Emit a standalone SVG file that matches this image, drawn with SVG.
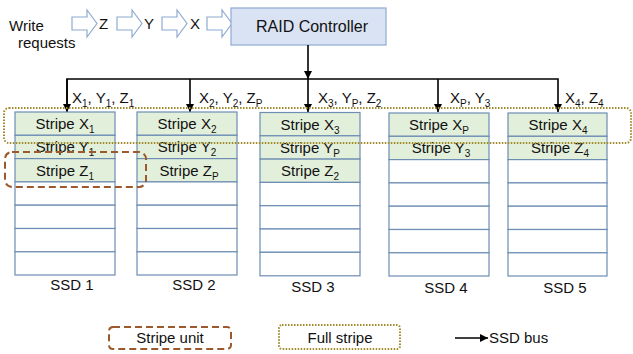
<svg xmlns="http://www.w3.org/2000/svg" width="633" height="354" viewBox="0 0 633 354">
  <style>
    text { font-family: "Liberation Sans", Arial, sans-serif; font-size: 15px; fill: #111; }
    .ctl { font-size: 16px; }
    .mid { text-anchor: middle; }
    .sub { font-size: 10px; }
    .hollow { fill: #fff; stroke: #8eaad0; stroke-width: 1.2; }
    .cell { fill: #fff; stroke: #6d8db3; stroke-width: 1.2; }
    .data { fill: #e2efda; stroke: #6d8db3; stroke-width: 1.2; }
    .bus { fill: none; stroke: #000; stroke-width: 1.6; }
    .unit { fill: none; stroke: #9c5a2c; stroke-width: 2; stroke-dasharray: 7 4; }
    .full { fill: none; stroke: #a08a2a; stroke-width: 2; stroke-dasharray: 1.5 1.5; }
  </style>
  <defs>
    <marker id="arrowhead" viewBox="0 0 10 10" refX="10" refY="5" markerWidth="5" markerHeight="5" orient="auto" markerUnits="strokeWidth">
      <path d="M0,0 L10,5 L0,10 Z" fill="#000"/>
    </marker>
    <path id="blockArrow" d="M0,17 H15 V10 L25,23.5 L15,37 V30 H0 Z"/>
  </defs>

  <!-- incoming write requests -->
  <g id="requests">
    <text x="9" y="31">Write</text>
    <text x="18" y="48">requests</text>
    <use href="#blockArrow" class="hollow" x="72"/>
    <text x="99" y="29">Z</text>
    <use href="#blockArrow" class="hollow" x="117"/>
    <text x="144" y="29">Y</text>
    <use href="#blockArrow" class="hollow" x="162"/>
    <text x="190" y="29">X</text>
    <use href="#blockArrow" class="hollow" x="207"/>
  </g>

  <!-- controller -->
  <g id="controller">
    <rect x="231" y="8" width="155" height="37" fill="#dae3f3" stroke="#8faad6" stroke-width="1.2"/>
    <text class="ctl mid" x="312" y="32">RAID Controller</text>
  </g>

  <!-- SSD bus -->
  <g id="connectors">
    <line class="bus" x1="308" y1="45" x2="308" y2="79" marker-end="url(#arrowhead)"/>
    <polyline class="bus" points="67,112 67,79 558,79 558,112" marker-end="url(#arrowhead)" marker-start="none"/>
    <line class="bus" x1="67" y1="79" x2="67" y2="112" marker-end="url(#arrowhead)"/>
    <line class="bus" x1="190" y1="79" x2="190" y2="112" marker-end="url(#arrowhead)"/>
    <line class="bus" x1="308" y1="79" x2="308" y2="112" marker-end="url(#arrowhead)"/>
    <line class="bus" x1="438" y1="79" x2="438" y2="112" marker-end="url(#arrowhead)"/>
    <text x="72" y="103">X<tspan class="sub" dy="4">1</tspan><tspan dy="-4">, Y</tspan><tspan class="sub" dy="4">1</tspan><tspan dy="-4">, Z</tspan><tspan class="sub" dy="4">1</tspan></text>
    <text x="199" y="103">X<tspan class="sub" dy="4">2</tspan><tspan dy="-4">, Y</tspan><tspan class="sub" dy="4">2</tspan><tspan dy="-4">, Z</tspan><tspan class="sub" dy="4">P</tspan></text>
    <text x="318" y="103">X<tspan class="sub" dy="4">3</tspan><tspan dy="-4">, Y</tspan><tspan class="sub" dy="4">P</tspan><tspan dy="-4">, Z</tspan><tspan class="sub" dy="4">2</tspan></text>
    <text x="450" y="103">X<tspan class="sub" dy="4">P</tspan><tspan dy="-4">, Y</tspan><tspan class="sub" dy="4">3</tspan></text>
    <text x="565" y="103">X<tspan class="sub" dy="4">4</tspan><tspan dy="-4">, Z</tspan><tspan class="sub" dy="4">4</tspan></text>
  </g>

  <!-- SSD 1 -->
  <g id="ssd1">
    <rect class="data" x="15" y="112" width="100" height="23.3"/>
    <rect class="data" x="15" y="135.3" width="100" height="23.3"/>
    <rect class="data" x="15" y="158.6" width="100" height="23.3"/>
    <rect class="cell" x="15" y="181.9" width="100" height="23.3"/>
    <rect class="cell" x="15" y="205.2" width="100" height="23.3"/>
    <rect class="cell" x="15" y="228.5" width="100" height="23.3"/>
    <rect class="cell" x="15" y="251.8" width="100" height="23.2"/>
    <text class="mid" x="65" y="129">Stripe X<tspan class="sub" dy="4">1</tspan></text>
    <text class="mid" x="65" y="152">Stripe Y<tspan class="sub" dy="4">1</tspan></text>
    <text class="mid" x="65" y="175.5">Stripe Z<tspan class="sub" dy="4">1</tspan></text>
    <text class="mid" x="72" y="290">SSD 1</text>
  </g>

  <!-- SSD 2 -->
  <g id="ssd2">
    <rect class="data" x="137" y="112" width="100" height="23.3"/>
    <rect class="data" x="137" y="135.3" width="100" height="23.3"/>
    <rect class="data" x="137" y="158.6" width="100" height="23.3"/>
    <rect class="cell" x="137" y="181.9" width="100" height="23.3"/>
    <rect class="cell" x="137" y="205.2" width="100" height="23.3"/>
    <rect class="cell" x="137" y="228.5" width="100" height="23.3"/>
    <rect class="cell" x="137" y="251.8" width="100" height="23.2"/>
    <text class="mid" x="187" y="129">Stripe X<tspan class="sub" dy="4">2</tspan></text>
    <text class="mid" x="187" y="152">Stripe Y<tspan class="sub" dy="4">2</tspan></text>
    <text class="mid" x="189" y="175.5">Stripe Z<tspan class="sub" dy="4">P</tspan></text>
    <text class="mid" x="194" y="290">SSD 2</text>
  </g>

  <!-- SSD 3 -->
  <g id="ssd3">
    <rect class="data" x="260" y="112.5" width="100" height="23.3"/>
    <rect class="data" x="260" y="135.8" width="100" height="23.3"/>
    <rect class="data" x="260" y="159.1" width="100" height="23.3"/>
    <rect class="cell" x="260" y="182.4" width="100" height="23.3"/>
    <rect class="cell" x="260" y="205.7" width="100" height="23.3"/>
    <rect class="cell" x="260" y="229" width="100" height="23.3"/>
    <rect class="cell" x="260" y="252.3" width="100" height="23.5"/>
    <text class="mid" x="310" y="129.5">Stripe X<tspan class="sub" dy="4">3</tspan></text>
    <text class="mid" x="310" y="152.5">Stripe Y<tspan class="sub" dy="4">P</tspan></text>
    <text class="mid" x="310" y="176">Stripe Z<tspan class="sub" dy="4">2</tspan></text>
    <text class="mid" x="313" y="292">SSD 3</text>
  </g>

  <!-- SSD 4 -->
  <g id="ssd4">
    <rect class="data" x="389" y="113" width="100" height="23.3"/>
    <rect class="data" x="389" y="136.3" width="100" height="23.3"/>
    <rect class="cell" x="389" y="159.6" width="100" height="23.3"/>
    <rect class="cell" x="389" y="182.9" width="100" height="23.3"/>
    <rect class="cell" x="389" y="206.2" width="100" height="23.3"/>
    <rect class="cell" x="389" y="229.5" width="100" height="23.3"/>
    <rect class="cell" x="389" y="252.8" width="100" height="23.2"/>
    <text class="mid" x="439" y="130">Stripe X<tspan class="sub" dy="4">P</tspan></text>
    <text class="mid" x="441" y="153">Stripe Y<tspan class="sub" dy="4">3</tspan></text>
    <text class="mid" x="446" y="293">SSD 4</text>
  </g>

  <!-- SSD 5 -->
  <g id="ssd5">
    <rect class="data" x="508" y="113" width="99" height="23.3"/>
    <rect class="data" x="508" y="136.3" width="99" height="23.3"/>
    <rect class="cell" x="508" y="159.6" width="99" height="23.3"/>
    <rect class="cell" x="508" y="182.9" width="99" height="23.3"/>
    <rect class="cell" x="508" y="206.2" width="99" height="23.3"/>
    <rect class="cell" x="508" y="229.5" width="99" height="23.3"/>
    <rect class="cell" x="508" y="252.8" width="99" height="23.2"/>
    <text class="mid" x="558" y="130">Stripe X<tspan class="sub" dy="4">4</tspan></text>
    <text class="mid" x="560" y="153">Stripe Z<tspan class="sub" dy="4">4</tspan></text>
    <text class="mid" x="565" y="293">SSD 5</text>
  </g>

  <!-- highlighted groupings -->
  <g id="full-stripe">
    <rect class="full" x="4" y="108" width="627" height="35" rx="5"/>
  </g>
  <g id="stripe-unit">
    <rect class="unit" x="5" y="152" width="141" height="35" rx="7"/>
  </g>

  <!-- legend -->
  <g id="legend">
    <rect class="unit" x="109" y="327" width="122" height="22" rx="4"/>
    <text class="mid" x="170" y="343">Stripe unit</text>
    <rect class="full" x="279" y="325" width="121" height="24" rx="3"/>
    <text class="mid" x="340" y="343">Full stripe</text>
    <line class="bus" x1="455" y1="338" x2="488" y2="338" marker-end="url(#arrowhead)"/>
    <text x="489" y="343">SSD bus</text>
  </g>
</svg>
